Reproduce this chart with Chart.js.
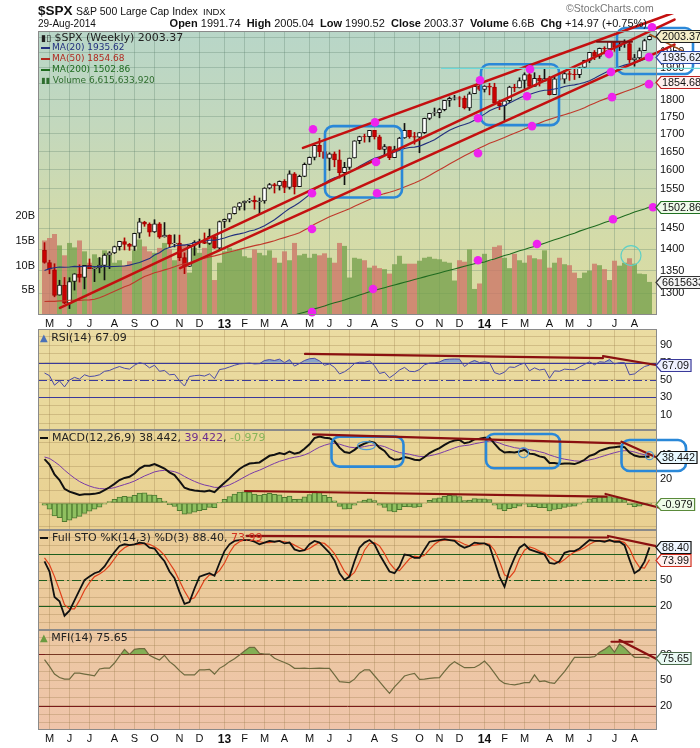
<!DOCTYPE html>
<html>
<head>
<meta charset="utf-8">
<script src="https://cdn.jsdelivr.net/npm/chart.js@4.4.1/dist/chart.umd.min.js"></script>
<style>
  body { margin: 0; background: #fff; width: 700px; height: 748px; position: relative; overflow: hidden;
         font-family: "Liberation Sans", Arial, sans-serif; color: #111; }
  .pane { position: absolute; left: 0; width: 700px; }
  .t { position: absolute; white-space: nowrap; line-height: 1; z-index: 2; }
  .lg { position: absolute; white-space: nowrap; font-family: "DejaVu Sans", sans-serif; line-height: 1; z-index: 2; }
  .dash { display: inline-block; width: 9px; height: 2px; vertical-align: middle; margin-right: 2px; }
</style>
</head>
<body>

<!-- header -->
<div class="t" style="left:38px;top:4px;font-size:13.5px;font-weight:bold">$SPX</div>
<div class="t" style="left:76px;top:6px;font-size:10.5px">S&amp;P 500 Large Cap Index</div>
<div class="t" style="left:203px;top:7px;font-size:9.5px">INDX</div>
<div class="t" style="left:566px;top:3px;font-size:10.5px;color:#777">©StockCharts.com</div>
<div class="t" style="left:38px;top:19px;font-size:10px">29-Aug-2014</div>
<div class="t" style="right:53px;top:18px;font-size:11px"><b>Open</b> 1991.74 &nbsp;<b>High</b> 2005.04 &nbsp;<b>Low</b> 1990.52 &nbsp;<b>Close</b> 2003.37 &nbsp;<b>Volume</b> 6.6B &nbsp;<b>Chg</b> +14.97 (+0.75%)</div>

<div class="pane" style="top:14px;height:315px"><canvas id="cMain" width="700" height="315"></canvas></div>
<div class="pane" style="top:329px;height:101px"><canvas id="cRsi" width="700" height="101"></canvas></div>
<div class="pane" style="top:430px;height:100px"><canvas id="cMacd" width="700" height="100"></canvas></div>
<div class="pane" style="top:530px;height:100px"><canvas id="cSto" width="700" height="100"></canvas></div>
<div class="pane" style="top:630px;height:118px"><canvas id="cMfi" width="700" height="118"></canvas></div>

<!-- legends -->
<div class="lg" style="left:41px;top:32px;font-size:11px;color:#222"><span style="font-size:9px">▮▯</span> $SPX (Weekly) 2003.37</div>
<div class="lg" style="left:41px;top:43px;font-size:9px;color:#22307e"><span class="dash" style="background:#22307e"></span>MA(20) 1935.62</div>
<div class="lg" style="left:41px;top:54px;font-size:9px;color:#b02a20"><span class="dash" style="background:#b02a20"></span>MA(50) 1854.68</div>
<div class="lg" style="left:41px;top:65px;font-size:9px;color:#1f6b1f"><span class="dash" style="background:#1f6b1f"></span>MA(200) 1502.86</div>
<div class="lg" style="left:41px;top:76px;font-size:9px;color:#2f6e2f"><span style="font-size:8px">▮▮</span> Volume 6,615,633,920</div>

<div class="lg" style="left:40px;top:332px;font-size:11px;color:#222"><span style="color:#4a70b8;font-size:10px">▲</span> RSI(14) 67.09</div>
<div class="lg" style="left:40px;top:432px;font-size:11px;color:#222"><span class="dash" style="background:#111;width:8px;margin-right:4px"></span>MACD(12,26,9) 38.442, <span style="color:#6a2c8e">39.422</span>, <span style="color:#86b45a">-0.979</span></div>
<div class="lg" style="left:40px;top:532px;font-size:11px;color:#222"><span class="dash" style="background:#111;width:8px;margin-right:4px"></span>Full STO %K(14,3) %D(3) 88.40, <span style="color:#d03020">73.99</span></div>
<div class="lg" style="left:40px;top:632px;font-size:11px;color:#222"><span style="color:#6a9a40;font-size:10px">▲</span> MFI(14) 75.65</div>

<script>
// ---------- data (weekly, 4-May-2012 .. 29-Aug-2014) ----------
const monthIdx = [1,5,9,14,18,22,27,31,36,40,44,48,53,57,61,66,70,75,79,83,88,92,96,101,105,109,114,118];
const monthLab = ['M','J','J','A','S','O','N','D','13','F','M','A','M','J','J','A','S','O','N','D','14','F','M','A','M','J','J','A'];
const priceTicks = [1300,1350,1400,1450,1500,1550,1600,1650,1700,1750,1800,1850,1900,1950,2000];
const volTicks = [5,10,15,20];

const open = [1397.9,1368.8,1351.9,1295.7,1317.4,1278.3,1325.9,1342.6,1334.9,1362.3,
1354.7,1356.5,1362.3,1385.8,1391.0,1405.9,1418.1,1411.1,1406.5,1437.9,
1465.4,1460.3,1440.9,1460.9,1428.8,1433.7,1412.0,1414.0,1380.1,1359.9,
1409.0,1416.3,1418.1,1413.5,1430.1,1402.4,1466.5,1472.1,1486.0,1503.0,
1513.2,1517.9,1519.8,1515.6,1518.2,1551.2,1560.7,1556.9,1569.2,1553.3,
1588.9,1555.3,1582.3,1614.4,1633.7,1667.5,1649.6,1630.6,1643.4,1626.7,
1592.4,1606.4,1631.9,1680.2,1692.1,1691.7,1709.7,1691.4,1655.8,1663.5,
1633.0,1655.2,1688.0,1709.9,1691.8,1690.5,1703.2,1744.5,1759.8,1761.6,
1770.6,1798.2,1804.8,1805.8,1805.1,1775.3,1818.3,1841.4,1831.4,1842.4,
1838.7,1790.3,1782.6,1797.0,1838.6,1836.3,1859.5,1878.0,1841.1,1866.5,
1857.6,1865.1,1815.7,1864.9,1863.4,1881.1,1878.5,1877.9,1900.5,1923.6,
1949.4,1936.2,1962.9,1961.0,1985.4,1967.6,1978.2,1978.3,1925.2,1931.6,
1955.1,1991.7];
const high = [1415.3,1374.0,1365.9,1328.5,1334.8,1334.2,1343.3,1363.5,1362.2,1377.0,
1357.0,1380.4,1389.2,1394.2,1407.1,1418.7,1426.7,1413.5,1438.0,1474.5,
1467.1,1463.2,1471.0,1464.0,1464.0,1434.0,1434.3,1433.4,1391.4,1409.2,
1420.0,1423.7,1438.6,1448.0,1431.0,1467.9,1473.0,1486.0,1503.3,1514.4,
1518.3,1524.7,1530.9,1525.8,1552.5,1563.6,1564.0,1570.3,1573.7,1597.4,
1592.6,1585.6,1618.5,1635.0,1667.5,1687.2,1674.2,1646.5,1648.7,1654.2,
1620.1,1632.1,1680.2,1693.1,1698.8,1709.7,1709.7,1696.0,1669.5,1663.5,
1664.7,1690.0,1729.9,1710.0,1704.0,1703.4,1745.3,1759.8,1775.2,1774.5,
1798.2,1808.4,1813.6,1810.0,1811.5,1823.8,1844.9,1849.4,1843.2,1850.8,
1850.8,1798.8,1798.0,1841.7,1847.5,1867.9,1883.6,1882.4,1884.0,1875.2,
1897.3,1872.5,1869.6,1884.9,1891.3,1889.1,1902.2,1901.3,1924.0,1949.4,
1955.6,1963.9,1968.2,1985.6,1985.6,1983.9,1991.4,1984.9,1942.9,1964.0,
1993.5,2005.0];
const low = [1367.0,1343.1,1292.0,1295.7,1277.1,1266.7,1306.6,1324.4,1309.3,1354.7,
1325.4,1345.1,1329.2,1354.7,1389.4,1397.3,1398.0,1397.0,1396.6,1426.3,
1454.7,1430.5,1439.6,1425.5,1428.5,1403.3,1405.0,1373.0,1343.4,1359.9,
1385.4,1403.9,1412.9,1411.0,1401.6,1398.1,1451.6,1465.7,1485.0,1495.0,
1495.0,1513.6,1497.3,1485.0,1512.3,1549.2,1538.6,1546.2,1539.5,1548.6,
1536.0,1555.3,1581.3,1614.2,1626.7,1635.5,1630.6,1598.2,1608.1,1577.7,
1560.3,1601.1,1631.9,1671.8,1676.0,1676.7,1684.9,1654.9,1639.2,1627.5,
1633.0,1655.2,1686.8,1687.2,1670.4,1646.5,1700.7,1740.5,1752.7,1746.2,
1766.8,1780.0,1799.4,1779.1,1772.3,1768.0,1818.3,1827.7,1823.7,1815.0,
1790.3,1770.5,1737.9,1791.8,1824.6,1836.3,1834.4,1839.6,1841.1,1842.1,
1857.6,1814.4,1815.7,1859.7,1850.6,1859.8,1862.4,1868.1,1900.0,1916.0,
1925.8,1930.0,1944.7,1955.1,1952.9,1955.6,1965.8,1916.4,1904.8,1928.3,
1955.1,1990.5];
const close = [1369.1,1353.4,1295.2,1317.8,1278.0,1325.7,1342.8,1335.0,1362.2,1354.7,
1356.8,1362.7,1386.0,1391.0,1405.9,1418.2,1411.1,1406.6,1437.9,1465.8,
1460.2,1440.7,1460.9,1428.6,1433.2,1411.9,1414.2,1379.9,1359.9,1409.2,
1416.2,1418.1,1413.6,1430.2,1402.4,1466.5,1472.1,1486.0,1503.0,1513.2,
1517.9,1519.8,1515.6,1518.2,1551.2,1560.7,1556.9,1569.2,1553.3,1588.9,
1555.3,1582.2,1614.4,1633.7,1667.5,1649.6,1630.7,1643.4,1626.7,1592.4,
1606.3,1631.9,1680.2,1692.1,1691.7,1709.7,1691.4,1655.8,1663.5,1633.0,
1655.2,1688.0,1709.9,1691.8,1690.5,1703.2,1744.5,1759.8,1761.6,1770.6,
1798.2,1804.8,1805.8,1805.1,1775.3,1818.3,1841.4,1831.4,1842.4,1838.7,
1790.3,1782.6,1797.0,1838.6,1836.3,1859.5,1878.0,1841.1,1866.5,1857.6,
1865.1,1815.7,1864.9,1863.4,1881.1,1878.5,1877.9,1900.5,1923.6,1949.4,
1936.2,1962.9,1961.0,1985.4,1967.6,1978.2,1978.3,1925.2,1931.6,1955.1,
1988.4,2003.37];
// volume in billions
const volume = [15.0,15.5,16.3,14.0,12.0,14.5,13.6,15.0,12.8,10.5,
12.2,11.5,13.0,12.0,10.5,11.0,10.0,10.8,13.0,15.2,
13.8,12.8,12.5,13.5,14.5,13.2,11.0,13.5,14.2,8.5,
13.5,12.5,13.5,14.5,7.0,10.5,12.8,13.5,13.0,13.2,
11.8,11.5,13.2,12.5,12.0,13.0,11.5,10.5,12.8,11.0,
14.5,12.0,12.3,11.5,12.3,12.0,12.4,11.5,10.5,14.5,
13.9,7.5,11.5,11.3,11.0,9.5,9.9,9.4,9.2,8.3,
10.2,11.9,10.3,10.3,10.3,10.9,11.5,11.7,11.3,11.2,
10.7,10.5,6.9,11.0,10.7,13.2,5.2,6.3,12.3,10.9,
13.7,14.0,11.5,9.4,12.3,11.0,10.5,12.0,11.4,11.2,
13.0,9.5,10.5,11.5,10.2,10.0,8.5,7.4,8.5,8.9,
10.3,10.0,9.2,7.0,10.9,9.9,10.5,11.4,10.3,8.3,
8.2,6.62];
const ma20 = [1350.3,1354.7,1356.6,1358.6,1358.0,1358.5,1359.8,1359.3,1360.3,1360.0,
1359.6,1359.2,1360.0,1359.3,1359.7,1360.2,1360.9,1362.7,1365.7,1368.8,
1373.4,1377.8,1386.1,1391.6,1399.4,1403.7,1407.3,1409.5,1409.4,1412.1,
1415.1,1417.9,1419.3,1421.3,1421.1,1423.5,1426.6,1430.6,1433.9,1436.3,
1439.2,1443.2,1445.9,1450.4,1456.3,1463.7,1470.8,1480.3,1490.0,1499.0,
1506.0,1514.2,1524.2,1534.4,1547.7,1556.9,1564.8,1572.7,1578.9,1582.9,
1587.3,1592.9,1601.1,1609.8,1616.8,1624.3,1631.0,1635.3,1640.8,1643.0,
1648.0,1653.3,1658.1,1661.0,1662.2,1664.9,1670.6,1676.4,1683.1,1692.0,
1701.6,1710.2,1716.5,1722.2,1726.4,1731.8,1739.3,1748.1,1757.0,1767.3,
1774.1,1778.8,1783.2,1790.5,1797.8,1805.6,1812.3,1816.4,1821.6,1826.0,
1829.3,1829.8,1832.8,1835.7,1841.0,1844.0,1845.8,1849.3,1853.4,1858.9,
1866.2,1875.2,1883.4,1890.7,1897.3,1903.2,1908.2,1912.4,1915.7,1920.6,
1926.8,1935.62];
const ma50 = [1281.8,1282.2,1282.1,1283.1,1283.2,1284.4,1284.4,1284.2,1285.2,1285.4,
1286.7,1289.9,1294.1,1299.4,1304.0,1308.9,1314.0,1317.8,1323.9,1330.6,
1336.7,1341.0,1345.4,1348.3,1351.9,1354.9,1358.8,1363.2,1365.6,1368.6,
1372.6,1375.6,1378.7,1381.8,1384.1,1387.1,1390.2,1393.0,1396.2,1399.3,
1402.3,1405.3,1408.2,1410.5,1413.6,1416.6,1419.8,1423.8,1427.3,1431.0,
1434.7,1439.3,1445.6,1452.0,1459.7,1466.2,1472.0,1478.1,1483.4,1488.2,
1493.2,1498.6,1504.5,1510.5,1516.2,1522.0,1527.6,1532.6,1537.1,1540.5,
1544.4,1549.3,1554.3,1559.6,1564.7,1570.5,1577.1,1584.7,1592.8,1600.0,
1607.6,1615.4,1623.2,1630.7,1638.2,1645.2,1652.6,1659.5,1666.3,1672.8,
1678.2,1683.5,1689.1,1695.5,1701.2,1707.2,1713.6,1719.1,1725.3,1730.7,
1736.9,1741.6,1746.6,1751.2,1755.5,1760.0,1765.0,1770.1,1776.1,1783.2,
1789.8,1796.4,1802.0,1807.9,1813.4,1818.8,1824.5,1829.9,1835.3,1841.7,
1848.4,1854.68];
// MA(200) only becomes visible from week 44 on
const ma200Start = 44;
const ma200 = [1236,1239,1242,1245,1247,1250,1253,1256,1259,1262,
1266,1269,1272,1276,1279,1282,1285,1289,1292,1296,
1299,1303,1306,1309,1312,1315,1318,1321,1324,1327,
1330,1333,1336,1339,1342,1345,1348,1351,1354,1357,
1360,1363,1366,1368,1370,1374,1377,1381,1385,1388,
1392,1396,1399,1403,1406,1410,1414,1418,1422,1426,
1430,1434,1438,1443,1447,1451,1455,1459,1464,1468,
1472,1476,1481,1485,1490,1494,1498,1502.86];
const rsi = [58,55,44,49,42,50,53,51,56,54,
54.5,56,60,61,63.5,65.5,63.5,62.5,67,70,
68.5,64,67,60,61,56,56.5,49,43,54,
55,55.5,54.5,57,51.5,62,63,65,67,68.5,
69,69.5,68.5,68.8,72.5,73.5,72.5,74,70,73.5,
66,69,72.5,74.5,75,72,67,68.5,64.5,57,
59.5,63.5,69,70.5,70.3,72,66.5,57.5,59,52.5,
56.5,61.5,64.5,60,59.6,62,67.5,69.5,69.7,70.8,
73.5,74,74.2,74,65.5,70,72.5,70,71,70,
58.5,56.5,59,65,64.5,67.5,69.5,60.5,64,61.5,
62.5,52,60.5,60,62.5,62,61.8,65,68,71,
67.5,71,70.5,73.5,68.5,70,70,56,57,61.5,
65.5,67.09];
const macd = [36.5,32,23.7,19.1,11.8,9.5,8.1,6.7,7.2,7.2,
7.6,8.5,10.8,13.1,15.9,19.1,20.9,21.8,24.6,28.7,
31,31,32.4,30.6,28.7,25.5,23.2,18.2,12.7,11.3,
10.4,9.9,9.5,10.4,9,13.1,16.8,20.5,24.6,28.3,
31,32.9,33.3,33.8,36.5,39.3,40.2,41.6,40.6,42.9,
41.1,42,45.2,48.9,54,55.3,54.4,54,51.6,46.1,
42.5,41.6,44.3,47.5,49.4,51.2,50.3,46.1,43.4,38.3,
36,36.5,38.3,37.4,36,35.6,38.3,41.6,43.8,45.7,
48.4,50.7,52.1,52.6,49.8,50.7,53,53.5,54.4,54.4,
49.4,44.8,42,42.5,42,42.9,44.3,41.1,40.6,38.8,
37.9,33.3,33.3,32.4,32.9,32.9,32.4,33.8,36,39.3,
40.6,43.4,44.8,46,46.5,47,46.5,42,39.5,38.5,
38.6,38.442];
const macdSignal = [38.3,37.1,34.4,31.3,27.4,23.9,20.7,17.9,15.8,14.1,
12.8,12,11.8,12,12.8,14.1,15.4,16.7,18.3,20.4,
22.5,24.2,25.9,26.8,27.2,26.8,26.1,24.5,22.1,19.9,
18,16.3,15,14.1,13,13,13.8,15.1,17.1,19.3,
21.7,23.9,25.8,27.3,29.2,31.2,33,34.7,35.9,37.2,
38.1,38.8,40.1,41.8,44.3,46.5,48.1,49.3,49.7,49,
47.7,46.5,46.1,46.3,47,47.8,48.3,47.9,47,45.2,
43.4,42,41.3,40.6,39.6,38.8,38.7,39.3,40.2,41.3,
42.8,44.3,45.9,47.2,47.8,48.3,49.3,50.1,50.9,51.6,
51.2,49.9,48.3,47.2,46.1,45.5,45.2,44.4,43.7,42.7,
41.7,40,38.7,37.4,36.5,35.8,35.1,34.8,35,35.9,
36.8,38.1,39.4,40.7,41.9,42.9,43.6,43.3,42.5,41.2,
40.2,39.422];
const macdHist = [-1.8,-5.1,-10.7,-12.2,-15.6,-14.4,-12.6,-11.2,-8.6,-6.9,
-5.2,-3.5,-1,1.1,3.1,5,5.5,5.1,6.3,8.3,
8.5,6.8,6.5,3.8,1.5,-1.3,-2.9,-6.3,-9.4,-8.6,
-7.6,-6.4,-5.5,-3.7,-4,0.1,3,5.4,7.5,9,
9.3,9,7.5,6.5,7.3,8.1,7.2,6.9,4.7,5.7,
3,3.2,5.1,7.1,9.7,8.8,6.3,4.7,1.9,-2.9,
-5.2,-4.9,-1.8,1.2,2.4,3.4,2,-1.8,-3.6,-6.9,
-7.4,-5.5,-3,-3.2,-3.6,-3.2,-0.4,2.3,3.6,4.4,
5.6,6.4,6.2,5.4,2,2.4,3.7,3.4,3.5,2.8,
-1.8,-5.1,-6.3,-4.7,-4.1,-2.6,-0.9,-3.3,-3.1,-3.9,
-3.8,-6.7,-5.4,-5,-3.6,-2.9,-2.7,-1,1,3.4,
3.8,5.3,5.4,5.3,4.6,4.1,2.9,-1.3,-3,-2.7,
-1.6,-0.979];
const stoK = [72,60,30,25,8,14,26,38,50,54,
58,60,66,75,83,90,92,91,92,94,
93,88,87,79,72,60,52,36,22,24,
40,54,56,58,55,70,84,92,96,97,
97,97,95,92,94,96,95,96,93,94,
86,84,85,92,96,94,88,82,73,58,
50,54,72,88,94,97,92,80,70,60,
58,66,80,79,76,76,86,95,96,97,
98,97,96,91,88,90,94,93,93,90,
72,54,42,62,76,88,92,86,84,82,
80,70,69,72,82,84,84,87,92,97,
96,96,95,97,95,95,91,74,58,62,
71.6,88.40];
const stoD = [76,68,54,38,21,16,16,26,38,47,
54,57,61,67,75,83,88,91,92,92,
93,92,89,85,79,70,61,49,37,27,
29,39,50,56,56,61,70,82,91,95,
97,97,96,95,94,94,95,96,95,94,
91,88,85,87,91,94,93,88,81,71,
60,54,59,71,85,93,94,90,81,70,
63,61,68,75,78,77,79,86,92,96,
97,97,97,95,92,90,91,92,93,92,
85,72,56,53,60,75,85,89,87,84,
82,77,73,70,74,79,83,85,88,92,
95,96,96,96,96,96,94,87,74,65,
64,73.99];
const mfi = [74,66,57,53,51,51,58,58,57,56,
55,63,64,64,70,78,86,80,86,87,
87,79,76,73.5,79,71.6,67,61,56,56,
56,62,62,62.5,57,63.7,67,71.6,75,79.4,
84,88.4,88.4,81.4,80.6,80.6,75.5,73,70.5,68,
63.7,63.7,64,63.5,63.7,63.9,63.7,63.7,56,48,
47.5,47,51,58,62,62,55,48,41,34.3,
42,48,54.7,56.5,57.8,50.8,51,52,52.5,52.7,
60,67,71.6,68,64.5,64.5,64.7,68,72.3,66,
58,50,46,45,44.3,45.5,47,47,56,48,
49,47,46,53,59.8,68,76.7,76.7,76.7,76.7,
77.5,82.6,86,90.4,82.6,92.4,88,82,76.7,76.7,
76.7,75.65];

// ---------- hand-drawn markup on the chart, in data units (week index, value) ----------
const annots = {
  cMain: {
    bg: ['#b8d6c8', '#c3d8bd', '#d2dbab', '#dcdca0'],
    lines: [
      { p: [3.1, 1268, 126, 2060], c: '#c41010', w: 2.6 },
      { p: [27.1, 1356, 126, 1975], c: '#c41010', w: 2.6 },
      { p: [51.7, 1660, 126, 2085], c: '#c41010', w: 2.6 },
      { p: [110.5, 1985, 117.5, 1985], c: '#7a1010', w: 2 },
      { p: [121.1, 2009, 128.4, 1948], c: '#a0501a', w: 1.6 },
      { p: [79.4, 1898, 131, 1898], c: '#6cd8d8', w: 1.2 }
    ],
    boxes: [[56.1, 1527, 71.5, 1722], [87.3, 1725, 102.9, 1911], [114.5, 1880, 129.7, 2031]],
    dots: [[53.7,1713],[53.5,1538],[53.5,1448],[53.5,1259],[87.1,1860],[86.7,1745],[86.7,1645],[86.7,1374],
           [97.1,1895],[96.5,1811],[97.5,1722],[98.5,1412],[66.1,1733],[66.3,1621],[66.5,1538],[65.7,1309],
           [112.9,1944],[113.3,1886],[113.5,1808],[113.7,1472],[121.5,2034],[120.9,1934],[120.9,1848],[121.7,1502]],
    circles: [{ axis: 'yv', x: 117.3, v: 12, r: 10, ry: 10, c: '#5fd0c6' }],
    tags: [
      { v: 2003.37, t: '2003.37', c: '#222', f: '#f4eec8' },
      { v: 1935.62, t: '1935.62', c: '#2a4aa8', f: '#eef2ff' },
      { v: 1854.68, t: '1854.68', c: '#c02020', f: '#fff0ee' },
      { v: 1502.86, t: '1502.86', c: '#207020', f: '#eefbea' },
      { axis: 'yv', v: 6.62, t: '6615633920', c: '#333', f: '#f4f4f4' }
    ]
  },
  cRsi: {
    bg: ['#ebdca2', '#e9d89a'],
    levels: [{ v: 70, c: '#3a3a9a' }, { v: 30, c: '#3a3a9a' }, { v: 50, c: '#3a3a9a', dash: [9, 3, 2, 3] }],
    lines: [{ p: [52.1, 80, 111.7, 75.3], c: '#8a1010', w: 2.2 }, { p: [111.7, 77.5, 124.4, 65.3], c: '#8a1010', w: 2.2 }],
    tags: [{ v: 67.09, t: '67.09', c: '#3a3a9a', f: '#eef0ff' }]
  },
  cMacd: {
    bg: ['#e9d698', '#e9d092'],
    lines: [
      { p: [53.7, 57.2, 115.1, 49.7], c: '#8a1010', w: 2.2 },
      { p: [115.4, 51, 122.1, 38.6], c: '#8a1010', w: 2.2 },
      { p: [40.1, 10, 112.4, 5.3], c: '#8a1010', w: 2.2 },
      { p: [112.2, 7.5, 123.4, -4.4], c: '#8a1010', w: 2.2 }
    ],
    boxes: [[57.4, 30.3, 71.8, 55.3], [88.3, 28.9, 103.1, 57.5], [115.4, 26.7, 128.3, 52.5]],
    circles: [{ x: 64.4, v: 47.8, r: 9, ry: 4, c: '#4a9ad8' }, { x: 95.8, v: 41.9, r: 5, ry: 5, c: '#4a9ad8' },
              { x: 121, v: 39.4, r: 4, ry: 4, c: '#4a9ad8' }],
    tags: [{ v: 38.442, t: '38.442', c: '#111', f: '#e8f8ff' }, { v: -0.979, t: '-0.979', c: '#5a8a3a', f: '#eefbe8' }]
  },
  cSto: {
    bg: ['#eacd98', '#ecc89e'],
    levels: [{ v: 80, c: '#1e5e1e' }, { v: 20, c: '#1e5e1e' }, { v: 50, c: '#1e5e1e', dash: [9, 3, 2, 3] }],
    lines: [{ p: [40.4, 102, 112.7, 100], c: '#8a1010', w: 2.2 }, { p: [112.7, 101.8, 122.8, 89.2], c: '#8a1010', w: 2.2 }],
    tags: [{ v: 88.40, t: '88.40', c: '#111', f: '#eef6ff' }, { v: 73.99, t: '73.99', c: '#d03020', f: '#fff0ee' }]
  },
  cMfi: {
    bg: ['#ecc8a2', '#efc4aa'],
    levels: [{ v: 80, c: '#7a1a1a' }, { v: 20, c: '#7a1a1a' }],
    lines: [{ p: [113.4, 95, 117.6, 95], c: '#8a1010', w: 2.2 }, { p: [115, 97, 122.4, 74.7], c: '#8a1010', w: 2.2 }],
    tags: [{ v: 75.65, t: '75.65', c: '#4a6a4a', f: '#eafaf4' }]
  }
};

// ---------- drawing helpers ----------
const X_MIN = -1.3, X_MAX = 122.5;
const FONT = '"Liberation Sans", Arial, sans-serif';
Chart.defaults.font.family = FONT;
Chart.defaults.font.size = 11;
Chart.defaults.color = '#111';

const panelPlugin = {
  id: 'panel',
  beforeDraw(c) {
    const a = annots[c.canvas.id], ca = c.chartArea, ctx = c.ctx;
    const g = ctx.createLinearGradient(0, ca.top, 0, ca.bottom);
    a.bg.forEach((col, i) => g.addColorStop(i / (a.bg.length - 1), col));
    ctx.save();
    ctx.fillStyle = g;
    ctx.fillRect(ca.left, ca.top, ca.right - ca.left, ca.bottom - ca.top);
    ctx.restore();
  },
  beforeDatasetsDraw(c) {
    const a = annots[c.canvas.id], ca = c.chartArea, ctx = c.ctx;
    (a.levels || []).forEach(l => {
      const y = Math.round(c.scales.y.getPixelForValue(l.v)) + 0.5;
      ctx.save();
      ctx.strokeStyle = l.c; ctx.lineWidth = 1; ctx.setLineDash(l.dash || []);
      ctx.beginPath(); ctx.moveTo(ca.left, y); ctx.lineTo(ca.right, y); ctx.stroke();
      ctx.restore();
    });
  },
  afterDatasetsDraw(c) {
    const a = annots[c.canvas.id], ctx = c.ctx, sx = c.scales.x;
    const Y = (axis, v) => c.scales[axis || 'y'].getPixelForValue(v);
    ctx.save();
    (a.boxes || []).forEach(b => {
      const x1 = sx.getPixelForValue(b[0]), x2 = sx.getPixelForValue(b[2]);
      const y1 = Y(null, b[3]), y2 = Y(null, b[1]);
      ctx.strokeStyle = '#2a88d8'; ctx.lineWidth = 2.6;
      ctx.beginPath(); ctx.roundRect(x1, y1, x2 - x1, y2 - y1, 8); ctx.stroke();
    });
    (a.lines || []).forEach(l => {
      ctx.strokeStyle = l.c; ctx.lineWidth = l.w; ctx.lineCap = 'round';
      ctx.beginPath();
      ctx.moveTo(sx.getPixelForValue(l.p[0]), Y(l.axis, l.p[1]));
      ctx.lineTo(sx.getPixelForValue(l.p[2]), Y(l.axis, l.p[3]));
      ctx.stroke();
    });
    (a.circles || []).forEach(o => {
      ctx.strokeStyle = o.c; ctx.lineWidth = 1.2;
      ctx.beginPath(); ctx.ellipse(sx.getPixelForValue(o.x), Y(o.axis, o.v), o.r, o.ry, 0, 0, Math.PI * 2); ctx.stroke();
    });
    (a.dots || []).forEach(d => {
      ctx.fillStyle = '#ee22ee';
      ctx.beginPath(); ctx.arc(sx.getPixelForValue(d[0]), Y(null, d[1]), 4.3, 0, Math.PI * 2); ctx.fill();
    });
    ctx.restore();
  },
  afterDraw(c) {
    const a = annots[c.canvas.id], ca = c.chartArea, ctx = c.ctx;
    ctx.save();
    ctx.strokeStyle = '#8a8a8a'; ctx.lineWidth = 1;
    ctx.strokeRect(ca.left + 0.5, ca.top + 0.5, ca.right - ca.left - 1, ca.bottom - ca.top - 1);
    ctx.font = '10.8px ' + FONT;
    ctx.textBaseline = 'middle';
    (a.tags || []).forEach(t => {
      const y = Math.round(c.scales[t.axis || 'y'].getPixelForValue(t.v)) + 0.5;
      const x0 = ca.right - 1, w = ctx.measureText(t.t).width + 3;
      ctx.beginPath();
      ctx.moveTo(x0, y); ctx.lineTo(x0 + 5, y - 6); ctx.lineTo(x0 + 5 + w, y - 6);
      ctx.lineTo(x0 + 5 + w, y + 6); ctx.lineTo(x0 + 5, y + 6); ctx.closePath();
      ctx.fillStyle = t.f; ctx.fill();
      ctx.strokeStyle = t.c; ctx.lineWidth = 1.2; ctx.stroke();
      ctx.fillStyle = '#111'; ctx.fillText(t.t, x0 + 6, y + 0.5);
    });
    ctx.restore();
  }
};

function xAxis(labelHeight, gridCol) {
  return {
    type: 'linear', min: X_MIN, max: X_MAX, offset: false,
    afterBuildTicks: s => { s.ticks = monthIdx.map(v => ({ value: v })); },
    afterFit: s => { s.height = labelHeight; s.paddingLeft = 0; s.paddingRight = 0; },
    ticks: {
      display: labelHeight > 0, autoSkip: false, maxRotation: 0, padding: 2,
      callback: (v, i) => monthLab[i],
      font: ctx => (/\d/.test(monthLab[ctx.index] || '') ? { size: 12, weight: 'bold' } : { size: 11 })
    },
    grid: { color: gridCol, drawTicks: false, offset: false },
    border: { display: false }
  };
}

function yAxis(min, max, gridVals, labelled, gridCol) {
  return {
    type: 'linear', position: 'right', min: min, max: max,
    afterBuildTicks: s => { s.ticks = gridVals.map(v => ({ value: v })); },
    afterFit: s => { s.width = 43; s.paddingTop = 0; s.paddingBottom = 0; },
    ticks: { padding: 3, autoSkip: false, callback: v => (labelled.includes(v) ? String(v) : '') },
    grid: { color: gridCol, drawTicks: false },
    border: { display: false }
  };
}

const baseOpts = (scales, leftPad, topPad) => ({
  responsive: false, maintainAspectRatio: false, animation: false,
  layout: { padding: { left: leftPad, right: 0, top: topPad || 0, bottom: 0 } },
  plugins: { legend: { display: false }, tooltip: { enabled: false } },
  scales: scales
});

const pts = arr => arr.map((v, i) => ({ x: i, y: v }));
const down = i => close[i] < open[i];
const volUp = i => close[i] >= (i ? close[i - 1] : open[i]);

const GRID_MAIN = 'rgba(90,125,105,0.30)';
const GRID_LOW = 'rgba(150,120,70,0.30)';
const tens = [0, 10, 20, 30, 40, 50, 60, 70, 80, 90, 100];

// ---------- main price panel ----------
new Chart(document.getElementById('cMain'), {
  type: 'line',
  data: {
    datasets: [
      { type: 'bar', label: 'Volume', yAxisID: 'yv', data: pts(volume), grouped: false, order: 10,
        barThickness: 4.4, borderWidth: 0,
        backgroundColor: c => (volUp(c.dataIndex) ? 'rgba(116,160,76,0.78)' : 'rgba(204,116,102,0.78)') },
      { type: 'bar', label: 'Range', yAxisID: 'y', grouped: false, order: 4, barThickness: 1,
        data: close.map((v, i) => ({ x: i, y: [low[i], high[i]] })),
        backgroundColor: c => (down(c.dataIndex) ? '#b00000' : '#111') },
      { type: 'bar', label: 'Body', yAxisID: 'y', grouped: false, order: 3, barThickness: 4,
        borderWidth: 1, borderSkipped: false,
        data: close.map((v, i) => ({ x: i, y: [open[i], v] })),
        backgroundColor: c => (down(c.dataIndex) ? '#cc0000' : '#ffffff'),
        borderColor: c => (down(c.dataIndex) ? '#a00000' : '#111') },
      { label: 'MA(20)', yAxisID: 'y', data: pts(ma20), borderColor: '#22307e', borderWidth: 1.1, pointRadius: 0, order: 2 },
      { label: 'MA(50)', yAxisID: 'y', data: pts(ma50), borderColor: '#c0392b', borderWidth: 1.1, pointRadius: 0, order: 2 },
      { label: 'MA(200)', yAxisID: 'y', data: ma200.map((v, i) => ({ x: ma200Start + i, y: v })),
        borderColor: '#1f6b1f', borderWidth: 1.1, pointRadius: 0, order: 2 }
    ]
  },
  options: baseOpts({
    x: xAxis(14, GRID_MAIN),
    y: {
      type: 'logarithmic', position: 'right', min: 1253, max: 2021,
      afterBuildTicks: s => { s.ticks = priceTicks.map(v => ({ value: v })); },
      afterFit: s => { s.width = 43; s.paddingTop = 0; s.paddingBottom = 0; },
      ticks: { padding: 3, autoSkip: false, callback: v => String(v) },
      grid: { color: GRID_MAIN, drawTicks: false },
      border: { display: false }
    },
    yv: {
      type: 'linear', position: 'left', min: 0, max: 57.4,
      afterBuildTicks: s => { s.ticks = volTicks.map(v => ({ value: v })); },
      afterFit: s => { s.width = 38; s.paddingTop = 0; s.paddingBottom = 0; },
      ticks: { padding: 3, autoSkip: false, callback: v => v + 'B' },
      grid: { display: false, drawTicks: false },
      border: { display: false }
    }
  }, 0, 17),
  plugins: [panelPlugin]
});

// ---------- RSI ----------
new Chart(document.getElementById('cRsi'), {
  type: 'line',
  data: { datasets: [
    { label: 'RSI(14)', data: pts(rsi), borderColor: '#4a4aa8', borderWidth: 1, pointRadius: 0,
      fill: { target: { value: 70 }, above: 'rgba(105,145,215,0.75)', below: 'rgba(0,0,0,0)' } }
  ] },
  options: baseOpts({ x: xAxis(0, GRID_LOW), y: yAxis(-7.7, 108.8, tens, [10, 30, 50, 70, 90], GRID_LOW) }, 38),
  plugins: [panelPlugin]
});

// ---------- MACD ----------
new Chart(document.getElementById('cMacd'), {
  type: 'line',
  data: { datasets: [
    { type: 'bar', label: 'Histogram', data: pts(macdHist), grouped: false, barThickness: 5, order: 5,
      backgroundColor: '#8fc060', borderColor: '#4f7a30', borderWidth: 1, borderSkipped: false },
    { label: 'Signal', data: pts(macdSignal), borderColor: '#7a3aa8', borderWidth: 1, pointRadius: 0, order: 2 },
    { label: 'MACD', data: pts(macd), borderColor: '#111', borderWidth: 2, pointRadius: 0, order: 1 }
  ] },
  options: baseOpts({ x: xAxis(0, GRID_LOW), y: yAxis(-22.5, 60.8, [-20, -10, 0, 10, 20, 30, 40, 50, 60], [20, 40], GRID_LOW) }, 38),
  plugins: [panelPlugin]
});

// ---------- Full stochastics ----------
new Chart(document.getElementById('cSto'), {
  type: 'line',
  data: { datasets: [
    { label: '%D(3)', data: pts(stoD), borderColor: '#e0401a', borderWidth: 1.2, pointRadius: 0, order: 2 },
    { label: '%K(14,3)', data: pts(stoK), borderColor: '#111', borderWidth: 1.8, pointRadius: 0, order: 1 }
  ] },
  options: baseOpts({ x: xAxis(0, GRID_LOW), y: yAxis(-8.8, 108.8, tens, [20, 50, 80], GRID_LOW) }, 38),
  plugins: [panelPlugin]
});

// ---------- MFI ----------
new Chart(document.getElementById('cMfi'), {
  type: 'line',
  data: { datasets: [
    { label: 'MFI(14)', data: pts(mfi), borderColor: '#6e6a3e', borderWidth: 1.2, pointRadius: 0,
      fill: { target: { value: 80 }, above: 'rgba(112,170,70,0.85)', below: 'rgba(0,0,0,0)' } }
  ] },
  options: baseOpts({ x: xAxis(18, GRID_LOW), y: yAxis(-8.8, 108.8, tens, [20, 50, 80], GRID_LOW) }, 38),
  plugins: [panelPlugin]
});
</script>
</body>
</html>
